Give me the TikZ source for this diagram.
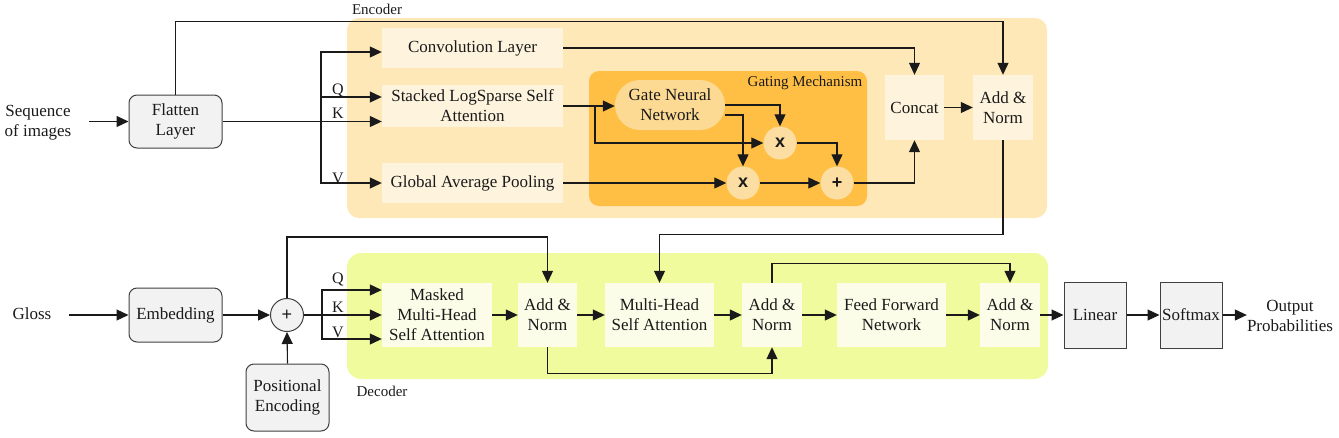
\documentclass[tikz,border=0pt]{standalone}
\usepackage{fontspec}
\setmainfont{Liberation Serif}
\newfontfamily\serifm{Liberation Serif}
\newfontfamily\sansf{Liberation Sans}
\usetikzlibrary{arrows.meta,calc}
\definecolor{encbg}{HTML}{FFE8B8}
\definecolor{encbox}{HTML}{FEF4DE}
\definecolor{gatebg}{HTML}{FFBF45}
\definecolor{gatenn}{HTML}{FDDA94}
\definecolor{circ}{HTML}{FCDDA2}
\definecolor{decbg}{HTML}{EFFB9C}
\definecolor{decbox}{HTML}{FBFDE8}
\definecolor{grayfill}{HTML}{F2F2F2}
\definecolor{txt}{HTML}{1A1A1A}
\definecolor{bord}{HTML}{404040}
\tikzset{
  every node/.style={text=txt},
  base/.style={inner sep=0pt, align=center, font=\serifm\fontsize{17}{20}\selectfont},
  encb/.style={base, fill=encbox},
  decb/.style={base, fill=decbox},
  grayr/.style={base, fill=grayfill, draw=bord, line width=1pt, rounded corners=8pt},
  grays/.style={base, fill=grayfill, draw=bord, line width=1pt},
  opc/.style={circle, inner sep=0pt, minimum size=33pt, fill=circ, font=\sansf\bfseries\fontsize{18}{18}\selectfont},
  lbl/.style={inner sep=0pt, font=\serifm\fontsize{15}{17}\selectfont},
  qkv/.style={inner sep=0pt, font=\serifm\fontsize{16}{18}\selectfont},
  arr/.style={draw=txt, line width=1.1pt, -{Triangle[length=12pt,width=11pt]}},
  ln/.style={draw=txt, line width=1.1pt}
}
\begin{document}
\begin{tikzpicture}[x=1pt,y=-1pt]
\useasboundingbox (0,0) rectangle (1339,437);
% backgrounds
\fill[encbg, rounded corners=12pt] (347,18) rectangle (1047,218);
\fill[gatebg, rounded corners=10pt] (589,71) rectangle (867,206);
\fill[decbg, rounded corners=14pt] (347,253) rectangle (1048,379);
\node[lbl] (enclbl) at (377,9) {Encoder};
\node[lbl] (declbl) at (382,391) {Decoder};
\node[lbl] (gatelbl) at (805,83) {Gating Mechanism};

% encoder nodes
\node[base] (seq) at (38,123) {Sequence\\of images};
\node[grayr, minimum width=93pt, minimum height=53pt] (flat) at (175.5,121.5) {Flatten\\Layer};
\node[encb, minimum width=181pt, minimum height=40pt] (conv) at (472.5,48) {Convolution Layer};
\node[encb, minimum width=181pt, minimum height=42pt] (stk) at (472.5,106) {Stacked LogSparse Self\\Attention};
\node[encb, minimum width=181pt, minimum height=40pt] (gap) at (472.5,183) {Global Average Pooling};
\node[base, fill=gatenn, rounded corners=25pt, minimum width=110pt, minimum height=50pt] (gate) at (670,105) {Gate Neural\\Network};
\node[opc] (m1) at (780,143) {x};
\node[opc] (m2) at (743,183) {x};
\node[opc] (pl) at (837,183) {+};
\node[encb, minimum width=59pt, minimum height=65pt] (concat) at (914.5,107.5) {Concat};
\node[encb, minimum width=60pt, minimum height=65pt] (anE) at (1003,107.5) {Add \&\\Norm};
\node[qkv] (qe) at (338,90) {Q};
\node[qkv] (ke) at (338,113) {K};
\node[qkv] (ve) at (338,178) {V};
\coordinate (br) at (321,121.5);
\coordinate (bgate) at (595,107);

% encoder connectors
\draw[arr] ([xshift=18pt]seq.east |- flat.west) -- (flat.west);
\draw[arr] (flat.east) -- (flat.east -| stk.west);
\draw[arr] (br) |- ([yshift=-4pt]conv.west);
\draw[arr] (br) |- ([yshift=9pt]stk.west);
\draw[arr] (br) |- (gap.west);
\draw[arr] (flat.north) -- ++(0,-73) -| (anE.north);
\draw[arr] (conv.east) -| (concat.north);
\draw[arr] (stk.east) -- (stk.east -| gate.west);
\draw[arr] (bgate) |- (m1.west);
\draw[arr] (gate.east) -| (m1.north);
\draw[arr] ([yshift=-10pt]gate.east) -| (m2.north);
\draw[arr] (gap.east) -- (m2.west);
\draw[arr] (m2.east) -- (pl.west);
\draw[arr] (m1.east) -| (pl.north);
\draw[arr] (pl.east) -| (concat.south);
\draw[arr] (concat.east) -- (anE.west);

% decoder nodes
\node[base] (gloss) at (32,314) {Gloss};
\node[grayr, minimum width=93pt, minimum height=54pt] (emb) at (175.5,315) {Embedding};
\node[circle, inner sep=0pt, minimum size=33pt, fill=grayfill, draw=bord, line width=1pt, font=\sansf\fontsize{18}{18}\selectfont] (pd) at (287,315) {+};
\node[grayr, minimum width=83pt, minimum height=67pt] (pe) at (287.5,397.5) {Positional\\Encoding};
\node[decb, minimum width=110pt, minimum height=64pt] (mmha) at (437,315) {Masked\\Multi-Head\\Self Attention};
\node[decb, minimum width=59pt, minimum height=64pt] (an1) at (547.5,315) {Add \&\\Norm};
\node[decb, minimum width=109pt, minimum height=64pt] (mha) at (659.5,315) {Multi-Head\\Self Attention};
\node[decb, minimum width=60pt, minimum height=64pt] (an2) at (772,315) {Add \&\\Norm};
\node[decb, minimum width=109pt, minimum height=64pt] (ffn) at (891.5,315) {Feed Forward\\Network};
\node[decb, minimum width=60pt, minimum height=64pt] (an3) at (1010,315) {Add \&\\Norm};
\node[grays, minimum width=62pt, minimum height=66pt] (lin) at (1095,315) {Linear};
\node[grays, minimum width=62pt, minimum height=66pt] (sm) at (1191,315) {Softmax};
\node[base] (out) at (1290,316) {Output\\Probabilities};
\node[qkv] (qd) at (338,279) {Q};
\node[qkv] (kd) at (338,307) {K};
\node[qkv] (vd) at (338,332) {V};
\coordinate (br2) at (322,315);

% decoder connectors
\draw[arr] ([xshift=17pt]gloss.east |- emb.west) -- (emb.west);
\draw[arr] (emb.east) -- (pd.west);
\draw[arr] (pe.north) -- (pd.south);
\draw[ln] (pd.east) -- (br2);
\draw[arr] (br2) |- ([yshift=25pt]mmha.west);
\draw[arr] (br2) -- (mmha.west);
\draw[arr] (br2) |- ([yshift=-24pt]mmha.west);
\draw[arr] (pd.north) -- ++(0,-61) -| (an1.north);
\draw[arr] (anE.south) -- ++(0,94) -| (mha.north);
\draw[arr] (mmha.east) -- (an1.west);
\draw[arr] (an1.east) -- (mha.west);
\draw[arr] (mha.east) -- (an2.west);
\draw[arr] (an2.east) -- (ffn.west);
\draw[arr] (ffn.east) -- (an3.west);
\draw[arr] (an3.east) -- (lin.west);
\draw[arr] (lin.east) -- (sm.west);
\draw[arr] (sm.east) -- (out.west |- sm.east);
\draw[arr] (an1.south) -- ++(0,26) -| (an2.south);
\draw[arr] (an2.north) -- ++(0,-19) -| (an3.north);
\end{tikzpicture}
\end{document}
